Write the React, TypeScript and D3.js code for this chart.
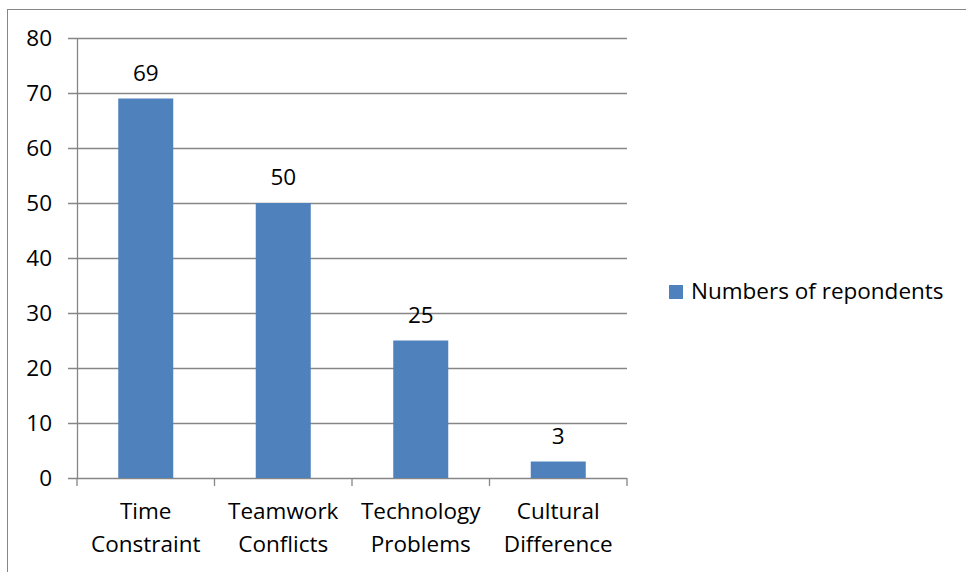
import { useEffect, useRef } from 'react';
import * as d3 from 'd3';

const categories = ['Time Constraint', 'Teamwork Conflicts', 'Technology Problems', 'Cultural Difference'];
const values = [69, 50, 25, 3];
const yTicks = [0, 10, 20, 30, 40, 50, 60, 70, 80];
const seriesName = 'Numbers of repondents';

const App = () => {
  const ref = useRef<SVGSVGElement | null>(null);

  useEffect(() => {
    if (!ref.current) return;
    const svg = d3.select(ref.current);
    svg.selectAll('*').remove();

    const font = "'Open Sans', sans-serif";
    const fontSize = '22.5px';
    const grid = '#868686';

    // Outer border
    svg.append('rect')
      .attr('x', 7.5).attr('y', 9.5)
      .attr('width', 960).attr('height', 570)
      .attr('fill', 'white').attr('stroke', grid).attr('stroke-width', 1);

    const left = 77, right = 627, top = 38, bottom = 478;

    const x = d3.scaleBand<string>()
      .domain(categories)
      .range([left, right])
      .paddingInner(0.6)
      .paddingOuter(0.3);

    const y = d3.scaleLinear().domain([0, 80]).range([bottom, top]);

    // Gridlines and y labels
    svg.append('g').selectAll('line')
      .data(yTicks)
      .enter()
      .append('line')
      .attr('x1', left - 9).attr('x2', right)
      .attr('y1', d => Math.round(y(d)) + 0.5).attr('y2', d => Math.round(y(d)) + 0.5)
      .attr('stroke', grid).attr('stroke-width', 1.3);

    svg.append('g').selectAll('text')
      .data(yTicks)
      .enter()
      .append('text')
      .attr('x', 52)
      .attr('y', d => y(d) + 8)
      .attr('text-anchor', 'end')
      .style('font-family', font)
      .style('font-size', fontSize)
      .text(d => d);

    // Y axis line
    svg.append('line')
      .attr('x1', left + 0.5).attr('x2', left + 0.5)
      .attr('y1', top).attr('y2', bottom)
      .attr('stroke', grid).attr('stroke-width', 1.3);

    // X ticks at category boundaries
    const xTickPos = d3.range(categories.length + 1).map(i => left + i * (right - left) / categories.length);
    svg.append('g').selectAll('line')
      .data(xTickPos)
      .enter()
      .append('line')
      .attr('x1', d => d).attr('x2', d => d)
      .attr('y1', bottom).attr('y2', bottom + 8)
      .attr('stroke', grid).attr('stroke-width', 1.3);

    // Bars
    svg.append('g').selectAll('rect')
      .data(values)
      .enter()
      .append('rect')
      .attr('x', (_, i) => x(categories[i]) || 0)
      .attr('y', d => y(d))
      .attr('width', x.bandwidth())
      .attr('height', d => bottom - y(d))
      .attr('fill', '#4F81BD');

    // Value labels
    svg.append('g').selectAll('text')
      .data(values)
      .enter()
      .append('text')
      .attr('x', (_, i) => (x(categories[i]) || 0) + x.bandwidth() / 2)
      .attr('y', d => y(d) - 18)
      .attr('text-anchor', 'middle')
      .style('font-family', font)
      .style('font-size', fontSize)
      .text(d => d);

    // Category labels (two lines)
    const cat = svg.append('g').selectAll('text')
      .data(categories)
      .enter()
      .append('text')
      .attr('text-anchor', 'middle')
      .style('font-family', font)
      .style('font-size', fontSize);
    cat.each(function (d) {
      const cx = (x(d) || 0) + x.bandwidth() / 2;
      d.split(' ').forEach((w, j) => {
        d3.select(this).append('tspan')
          .attr('x', cx)
          .attr('y', 519 + j * 33)
          .text(w);
      });
    });

    // Legend
    svg.append('rect')
      .attr('x', 669).attr('y', 285)
      .attr('width', 14).attr('height', 14)
      .attr('fill', '#4F81BD');
    svg.append('text')
      .attr('x', 691).attr('y', 299)
      .style('font-family', font)
      .style('font-size', fontSize)
      .text(seriesName);
  }, []);

  return (
    <svg ref={ref} width={966} height={572} style={{ position: 'absolute', left: 0, top: 0 }} />
  );
};

export default App;
